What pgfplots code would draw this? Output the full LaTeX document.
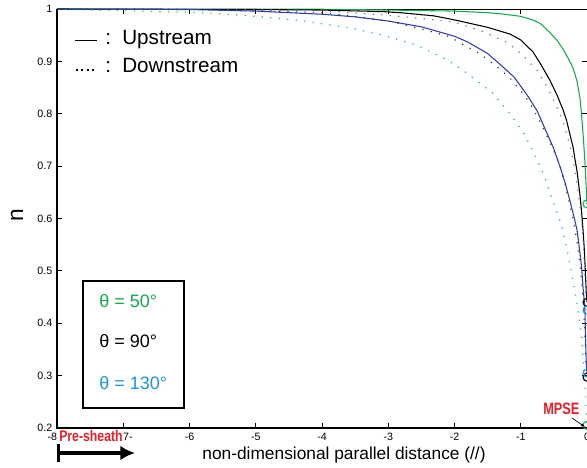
\documentclass[border=0pt]{standalone}
\usepackage{pgfplots}
\pgfplotsset{compat=1.18}
\usepackage{fontspec}
\setmainfont{Liberation Sans}
\usetikzlibrary{arrows.meta}
\definecolor{cgreen}{RGB}{20,170,80}
\definecolor{cgreendot}{RGB}{40,190,110}
\definecolor{cnavy}{RGB}{50,60,170}
\definecolor{cbluedot}{RGB}{100,110,200}
\definecolor{ccyan}{RGB}{30,150,220}
\definecolor{cred}{RGB}{232,30,40}
\begin{document}
\begin{tikzpicture}
\begin{axis}[
  at={(0,0)}, anchor=south west,
  scale only axis, width=397.5pt, height=314.25pt,
  xmin=-8, xmax=0, ymin=0.2, ymax=1,
  xtick={-8,-7,-6,-5,-4,-3,-2,-1,0},
  xticklabels={{-8\hphantom{-8}},{\hphantom{7-}7-},-6,-5,-4,-3,-2,-1,0},
  ytick={0.2,0.3,0.4,0.5,0.6,0.7,0.8,0.9,1},
  yticklabels={0.2,0.3,0.4,0.5,0.6,0.7,0.8,0.9,1},
  tick align=inside,
  major tick length=3.75pt,
  tick style={black, line width=0.6pt},
  ticklabel style={font=\fontsize{8}{9}\selectfont},
  /pgf/number format/assume math mode=true,
  axis line style={line width=0.6pt, black},
  clip=false,
]
% theta = 50, upstream
\addplot[cgreen, line width=0.8pt] coordinates {
(-8,1) (-4,0.9995) (-3,0.998) (-2,0.996) (-1.5,0.993) (-1.31,0.991) (-1,0.986)
(-0.815,0.979) (-0.7,0.972) (-0.56,0.955) (-0.45,0.940) (-0.36,0.923) (-0.28,0.905)
(-0.21,0.887) (-0.15,0.862) (-0.106,0.830) (-0.08,0.795) (-0.06,0.763) (-0.045,0.735)
(-0.03,0.705) (-0.02,0.68) (-0.01,0.655) (0,0.628)};
% theta = 90, upstream
\addplot[black, line width=0.8pt] coordinates {
(-8,1) (-5,0.999) (-4,0.998) (-3.08,0.995) (-2.82,0.993) (-2.32,0.987) (-2.07,0.981)
(-1.92,0.977) (-1.5,0.965) (-1.16,0.952) (-1,0.941) (-0.815,0.918) (-0.7,0.895)
(-0.56,0.864) (-0.45,0.835) (-0.36,0.807) (-0.31,0.788) (-0.21,0.736) (-0.18,0.712)
(-0.15,0.69) (-0.106,0.645) (-0.08,0.61) (-0.06,0.578) (-0.04,0.54) (-0.025,0.5)
(-0.012,0.46) (0,0.44)};
% theta = 130, upstream
\addplot[cnavy, line width=0.8pt] coordinates {
(-8,1) (-6,0.999) (-5,0.996) (-4,0.990) (-3.5,0.985) (-3,0.977) (-2.5,0.966) (-2,0.948)
(-1.8,0.937) (-1.5,0.915) (-1.3,0.893) (-1.1,0.870) (-0.9,0.835) (-0.75,0.805)
(-0.63,0.770) (-0.51,0.736) (-0.41,0.700) (-0.33,0.668) (-0.26,0.635) (-0.2,0.605)
(-0.15,0.578) (-0.106,0.534) (-0.08,0.505) (-0.06,0.469) (-0.04,0.44) (-0.03,0.42)
(-0.02,0.36) (-0.01,0.32) (0,0.305)};
% theta = 130, downstream
\addplot[cbluedot, line width=0.9pt, dash pattern=on 0.9pt off 5.5pt] coordinates {
(-8,1) (-5,0.999) (-4,0.997) (-3,0.988) (-2.5,0.982) (-2,0.975) (-1.57,0.957)
(-1.19,0.935) (-0.97,0.912) (-0.755,0.883) (-0.6,0.851) (-0.48,0.820) (-0.36,0.785)
(-0.26,0.740) (-0.2,0.705) (-0.15,0.665) (-0.106,0.625) (-0.075,0.590) (-0.05,0.54)
(-0.03,0.49) (-0.015,0.45) (0,0.425)};
% theta = 90, downstream
\addplot[black!80, line width=0.9pt, dash pattern=on 0.9pt off 5.5pt] coordinates {
(-8,1) (-6,0.999) (-5,0.997) (-4,0.993) (-3.5,0.986) (-3,0.977) (-2.5,0.962)
(-2.07,0.947) (-1.87,0.932) (-1.62,0.915) (-1.39,0.893) (-1.16,0.868) (-0.98,0.841)
(-0.86,0.820) (-0.74,0.792) (-0.63,0.765) (-0.52,0.735) (-0.42,0.705) (-0.33,0.665)
(-0.25,0.622) (-0.19,0.585) (-0.14,0.548) (-0.1,0.505) (-0.065,0.455) (-0.04,0.405)
(-0.02,0.35) (-0.008,0.315) (0,0.297)};
% theta = 50, downstream
\addplot[cgreendot, line width=0.9pt, dash pattern=on 0.9pt off 5.5pt] coordinates {
(-8,0.999) (-7,0.997) (-6.5,0.995) (-5.84,0.993) (-5.09,0.987) (-4.33,0.978)
(-3.58,0.964) (-3.08,0.950) (-2.57,0.931) (-2.11,0.903) (-1.87,0.883) (-1.43,0.840)
(-1.16,0.800) (-0.94,0.760) (-0.815,0.728) (-0.68,0.692) (-0.59,0.660) (-0.48,0.622)
(-0.38,0.585) (-0.29,0.534) (-0.21,0.482) (-0.14,0.429) (-0.08,0.374) (-0.06,0.33)
(-0.03,0.278) (-0.012,0.24) (0,0.205)};
% end points at the MPSE
\addplot[only marks, mark=o, mark size=3pt, cgreen, mark options={line width=0.8pt}] coordinates {(0,0.628) (0,0.205)};
\addplot[only marks, mark=o, mark size=3pt, black, mark options={line width=0.8pt}] coordinates {(0,0.44) (0,0.297)};
\addplot[only marks, mark=o, mark size=3pt, ccyan, mark options={line width=0.8pt}] coordinates {(0,0.425) (0,0.305)};
% heavy left and bottom axis lines
\draw[line width=1.5pt, black] (rel axis cs:0,1) -- (rel axis cs:0,0) -- (rel axis cs:1,0);
\end{axis}
\pgfresetboundingbox
\path[use as bounding box] (-42.75pt,-30pt) rectangle (397.5pt,321pt);
\begin{scope}[shift={(-42.75pt,321pt)}, x=0.75pt, y=-0.75pt]
  % line-style key
  \draw[black, line width=0.6pt] (75,40) -- (97,40);
  \draw[black, line width=1.6pt, dash pattern=on 1.6pt off 2.4pt] (76,70) -- (97,70);
  \node[anchor=base west, inner sep=0, font=\fontsize{15.5}{18}\selectfont] at (105,45) {:};
  \node[anchor=base west, inner sep=0, font=\fontsize{15.5}{18}\selectfont] at (105,73) {:};
  \node[anchor=base west, inner sep=0, font=\fontsize{15.5}{18}\selectfont] at (122,45) {Upstream};
  \node[anchor=base west, inner sep=0, font=\fontsize{15.5}{18}\selectfont] at (122,73) {Downstream};
  % theta box
  \draw[line width=1.5pt, black, fill=white] (83,281) rectangle (184,408);
  \node[anchor=base west, inner sep=0, text=cgreen, font=\fontsize{13.5}{16}\selectfont] at (99,308) {θ = 50°};
  \node[anchor=base west, inner sep=0, text=black, font=\fontsize{13.5}{16}\selectfont] at (99,348) {θ = 90°};
  \node[anchor=base west, inner sep=0, text=ccyan, font=\fontsize{13.5}{16}\selectfont] at (99,390) {θ = 130°};
  % axis titles
  \node[rotate=90, inner sep=0, font=\fontsize{17}{20}\selectfont] at (17,215) {n};
  \node[anchor=base, inner sep=0, font=\fontsize{13}{16}\selectfont] at (344,460) {non-dimensional parallel distance (//)};
  % pre-sheath
  \node[anchor=base west, inner sep=0, text=cred, font=\fontsize{11.5}{13}\selectfont\bfseries] at (59,442) {\scalebox{0.8}[1]{Pre-sheath}};
  \draw[line width=3pt, black, {Bar[width=13pt,line width=2.2pt]}-{Latex[length=11pt,width=11pt]}] (57.5,453) -- (135,453);
  % MPSE
  \node[anchor=base west, inner sep=0, text=cred, font=\fontsize{12.4}{14}\selectfont\bfseries] at (543,415) {\scalebox{0.77}[1]{MPSE}};
  \draw[black, line width=0.5pt, -{Latex[length=3pt,width=2.5pt]}] (572,418) -- (585,427);
\end{scope}
\end{tikzpicture}
\end{document}
